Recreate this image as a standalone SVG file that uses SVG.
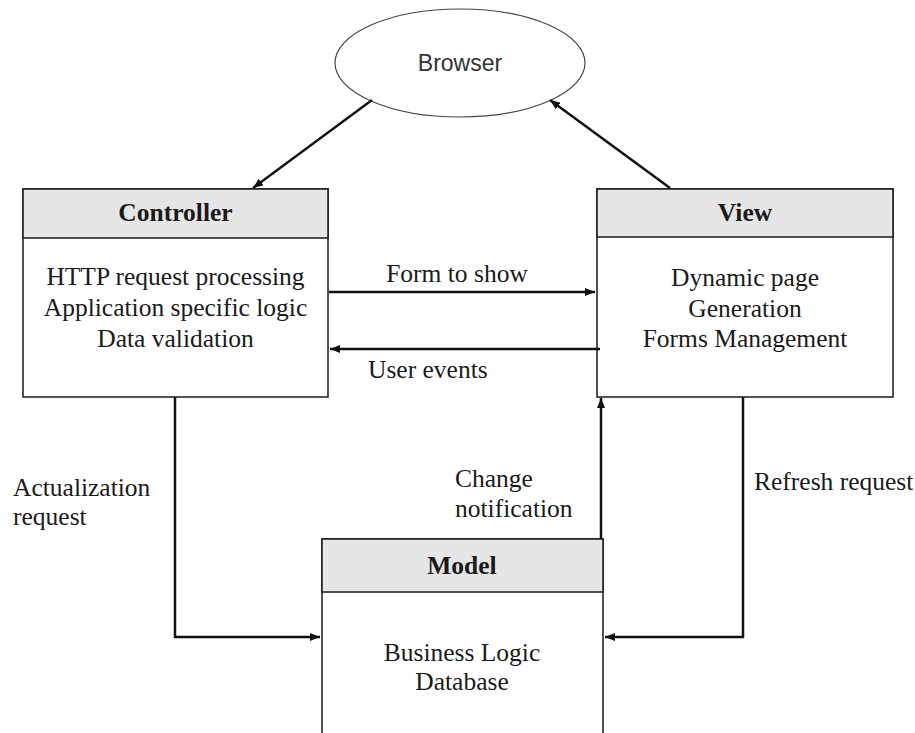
<svg xmlns="http://www.w3.org/2000/svg" width="915" height="733" viewBox="0 0 915 733">
<style>
.hdr{fill:#e6e6e6;stroke:#1a1a1a;stroke-width:1.5}
.box{fill:#ffffff;stroke:#1a1a1a;stroke-width:1.5}
.t{font-family:"Liberation Serif","Times New Roman",serif;font-size:25.5px;fill:#1a1a1a}
.b{font-weight:bold;text-anchor:middle}
.c{text-anchor:middle}
.conn{fill:none;stroke:#111;stroke-width:2.5;marker-end:url(#ah)}
</style>
<defs>
<marker id="ah" markerUnits="userSpaceOnUse" markerWidth="10" markerHeight="8" refX="10" refY="4" orient="auto">
<path d="M0,0 L10,4 L0,8 z" fill="#111"/>
</marker>
</defs>
<rect width="915" height="733" fill="#ffffff"/>
<g id="browser">
<ellipse cx="460" cy="63" rx="125" ry="54" fill="#ffffff" stroke="#444" stroke-width="1.2"/>
<text x="460" y="71" font-family="'Liberation Sans',Arial,sans-serif" font-size="23" fill="#333" text-anchor="middle">Browser</text>
</g>
<g id="controller">
<rect class="box" x="23" y="189" width="305" height="208"/>
<rect class="hdr" x="23" y="189" width="305" height="49"/>
<text class="t b" x="175.5" y="221">Controller</text>
<text class="t c" x="175.5" y="285">HTTP request processing</text>
<text class="t c" x="175.5" y="316">Application specific logic</text>
<text class="t c" x="175.5" y="347">Data validation</text>
</g>
<g id="view">
<rect class="box" x="597" y="189" width="296" height="208"/>
<rect class="hdr" x="597" y="189" width="296" height="48"/>
<text class="t b" x="745" y="221">View</text>
<text class="t c" x="745" y="286">Dynamic page</text>
<text class="t c" x="745" y="317">Generation</text>
<text class="t c" x="745" y="347">Forms Management</text>
</g>
<g id="model">
<path d="M322,740 L322,539 L603,539 L603,740" fill="#ffffff" stroke="#1a1a1a" stroke-width="1.5"/>
<rect class="hdr" x="322" y="539" width="281" height="53"/>
<text class="t b" x="462" y="574">Model</text>
<text class="t c" x="462" y="661">Business Logic</text>
<text class="t c" x="462" y="690">Database</text>
</g>
<g id="connectors">
<line class="conn" x1="372" y1="100" x2="253" y2="188"/>
<line class="conn" x1="670" y1="188" x2="550" y2="100"/>
<line class="conn" x1="329" y1="292" x2="595" y2="292"/>
<line class="conn" x1="600" y1="349" x2="330" y2="349"/>
<polyline class="conn" points="175,397 175,637 320,637"/>
<line class="conn" x1="601" y1="539" x2="601" y2="398"/>
<polyline class="conn" points="743,397 743,637 605,637"/>
<text class="t c" x="457" y="282">Form to show</text>
<text class="t" x="368" y="378">User events</text>
<text class="t" x="13" y="496">Actualization</text>
<text class="t" x="13" y="525">request</text>
<text class="t" x="455" y="487">Change</text>
<text class="t" x="455" y="517">notification</text>
<text class="t" x="754" y="490">Refresh request</text>
</g>
</svg>
